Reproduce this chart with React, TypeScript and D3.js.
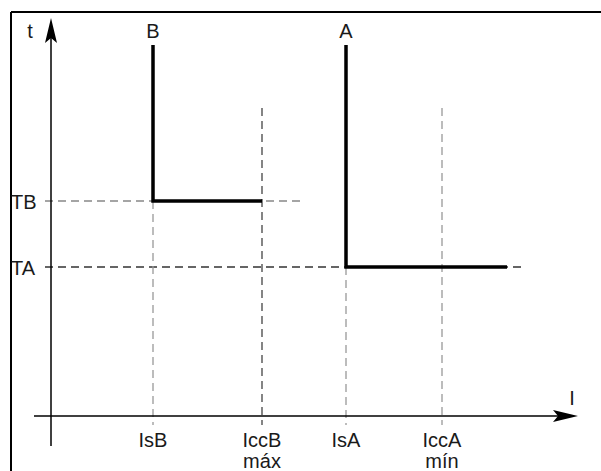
import React from "react";
import * as d3 from "d3";

// Current levels (arbitrary units along I axis)
const currentNames = ["IsB", "IccB", "IsA", "IccA"];
const currentValues = [2.04, 4.22, 5.9, 7.82];
const currentSubLabels = ["", "máx", "", "mín"];
const currentGuideTop = [5.375, 7.7, 3.725, 7.7];
const currentGuideColor = ["#999", "#444", "#999", "#999"];

// Time levels (arbitrary units along t axis)
const timeNames = ["TB", "TA"];
const timeValues = [5.375, 3.725];
const timeGuideEnd = [5.08, 9.48];
const timeGuideColor = ["#888", "#333"];

// Trip curves: [I, t] points
const curveNames = ["B", "A"];
const curveB: [number, number][] = [[2.04, 9.275], [2.04, 5.375], [4.22, 5.375]];
const curveA: [number, number][] = [[5.9, 9.275], [5.9, 3.725], [9.12, 3.725]];
const curves = [curveB, curveA];

export default function App() {
  const W = 601, H = 471;
  const x = d3.scaleLinear().domain([0, 10]).range([51, 551]);
  const y = d3.scaleLinear().domain([0, 10]).range([416, 16]);
  const line = d3.line<[number, number]>().x(d => x(d[0])).y(d => y(d[1]));
  const font = "'Liberation Sans', Arial, sans-serif";
  const x0 = x(0), y0 = y(0);
  const yTip = 18, xTip = 578;
  const fs = 20;
  const tc = "#1a1a1a";

  return (
    <svg width={W} height={H} style={{ position: "absolute", left: 0, top: 0 }} fontFamily={font}>
      <rect x={0} y={0} width={W} height={H} fill="#fff" />
      {/* frame (partially cropped) */}
      <line x1={11} y1={12} x2={W + 5} y2={12} stroke="#000" strokeWidth={2} />
      <line x1={11} y1={12} x2={11} y2={H + 5} stroke="#000" strokeWidth={2} />

      {/* guides: time */}
      {timeValues.map((t, i) => (
        <line key={"tg" + i} x1={x0 - 6} x2={x(timeGuideEnd[i])} y1={y(t)} y2={y(t)}
          stroke={timeGuideColor[i]} strokeWidth={1.3} strokeDasharray="8,5" />
      ))}
      {/* guides: current */}
      {currentValues.map((c, i) => (
        <line key={"cg" + i} x1={x(c)} x2={x(c)} y1={y(currentGuideTop[i])} y2={y0 + 9}
          stroke={currentGuideColor[i]} strokeWidth={1.3} strokeDasharray="8,5" />
      ))}

      {/* axes */}
      <line x1={x0} x2={x0} y1={y0 + 30} y2={yTip + 10} stroke="#000" strokeWidth={1.5} />
      <path d={`M${x0},${yTip} L${x0 + 6},${yTip + 25} L${x0},${yTip + 20} L${x0 - 6},${yTip + 25} Z`} fill="#000" />
      <line x1={34} x2={xTip - 10} y1={y0} y2={y0} stroke="#000" strokeWidth={1.5} />
      <path d={`M${xTip},${y0} L${xTip - 25},${y0 - 6} L${xTip - 20},${y0} L${xTip - 25},${y0 + 6} Z`} fill="#000" />
      <text x={30} y={38} fontSize={fs} textAnchor="middle" fill={tc}>t</text>
      <text x={572} y={405} fontSize={fs} textAnchor="middle" fill={tc}>I</text>

      {/* curves */}
      {curves.map((c, i) => (
        <g key={"c" + i}>
          <path d={line(c) || ""} fill="none" stroke="#000" strokeWidth={3.5} />
          <text x={x(c[0][0])} y={38} fontSize={fs} textAnchor="middle" fill={tc}>{curveNames[i]}</text>
        </g>
      ))}

      {/* time labels */}
      {timeValues.map((t, i) => (
        <text key={"tl" + i} x={11} y={y(t) + 8} fontSize={fs} fill={tc}>{timeNames[i]}</text>
      ))}

      {/* current labels */}
      {currentValues.map((c, i) => (
        <g key={"cl" + i}>
          <text x={x(c)} y={447} fontSize={fs} textAnchor="middle" fill={tc}>{currentNames[i]}</text>
          {currentSubLabels[i] && (
            <text x={x(c)} y={468} fontSize={fs} textAnchor="middle" fill={tc}>{currentSubLabels[i]}</text>
          )}
        </g>
      ))}
    </svg>
  );
}
